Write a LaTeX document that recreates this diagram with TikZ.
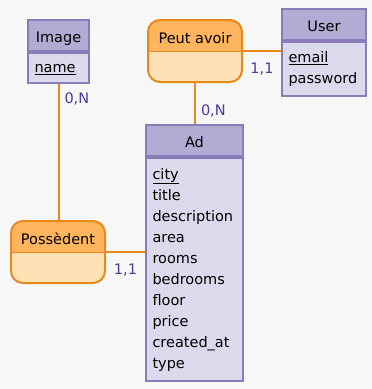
\documentclass[tikz,border=0pt]{standalone}
\usepackage{fontspec}
\setmainfont{DejaVu Sans}
\usetikzlibrary{positioning}

\definecolor{bgcol}{HTML}{F7F7F7}
\definecolor{entline}{HTML}{8A7BB9}
\definecolor{enttop}{HTML}{B2ABD3}
\definecolor{entfill}{HTML}{DADAEC}
\definecolor{assoline}{HTML}{E8891B}
\definecolor{assotop}{HTML}{FFB55E}
\definecolor{assofill}{HTML}{FFE1B6}
\definecolor{cardtext}{HTML}{4F3A98}

\begin{document}
\begin{tikzpicture}[x=1pt, y=-1pt,
  every node/.style={font=\fontsize{14.5}{21}\selectfont},
  enthead/.style={draw=entline, fill=enttop, line width=2pt, inner sep=0pt,
    text height=22pt, text depth=9pt, minimum width=#1, anchor=north west},
  entbody/.style 2 args={draw=entline, fill=entfill, line width=2pt,
    inner xsep=6.5pt, inner ysep=0pt, text width=#1, minimum height=#2,
    align=left, execute at begin node=\strut, execute at end node=\strut},
  asso/.style={draw=assoline, fill=assofill, line width=2pt, rounded corners=12pt,
    inner sep=0pt, minimum width=94, text height=23pt, text depth=39pt,
    anchor=north west,
    path picture={
      \fill[assotop, sharp corners] (path picture bounding box.north west)
        rectangle (path picture bounding box.east);
      \draw[assoline, line width=1pt] (path picture bounding box.west)
        -- (path picture bounding box.east);
    }},
  link/.style={draw=assoline, line width=2pt},
  card/.style={text=cardtext, inner sep=0pt}
]

  % 0. fond
  \fill[bgcol] (0,0) rectangle (372,389);
  \useasboundingbox (0,0) rectangle (372,389);

  % 1. entites
  \node[enthead=61] (imageH) at (27,19) {Image};
  \node[entbody={48}{30}, below=0pt of imageH] (imageB) {\underline{name}};

  \node[enthead=84] (userH) at (281,8) {User};
  \node[entbody={71}{54}, below=0pt of userH] (userB) {\underline{email}\\ password};

  \node[enthead=97] (adH) at (145,124) {Ad};
  \node[entbody={84}{223}, below=0pt of adH] (adB)
    {\underline{city}\\ title\\ description\\ area\\ rooms\\ bedrooms\\
     floor\\ price\\ created\_at\\ type};

  % 2. associations
  \node[asso] (peutA) at (147,19) {Peut avoir};
  \node[asso] (possA) at (10,220) {Possèdent};

  % 3. liens + cardinalites
  \draw[link] (imageB.south) -- (imageB.south |- possA.north)
    node[card, pos=0.11, right=5pt] {0,N};
  \draw[link] (peutA.east) -- (peutA.east -| userB.west)
    node[card, midway, below=11pt] {1,1};
  \draw[link] (peutA.south) -- (peutA.south |- adH.north)
    node[card, pos=0.67, right=5pt] {0,N};
  \draw[link] (possA.east) -- (possA.east -| adB.west)
    node[card, midway, below=11pt] {1,1};

\end{tikzpicture}
\end{document}
